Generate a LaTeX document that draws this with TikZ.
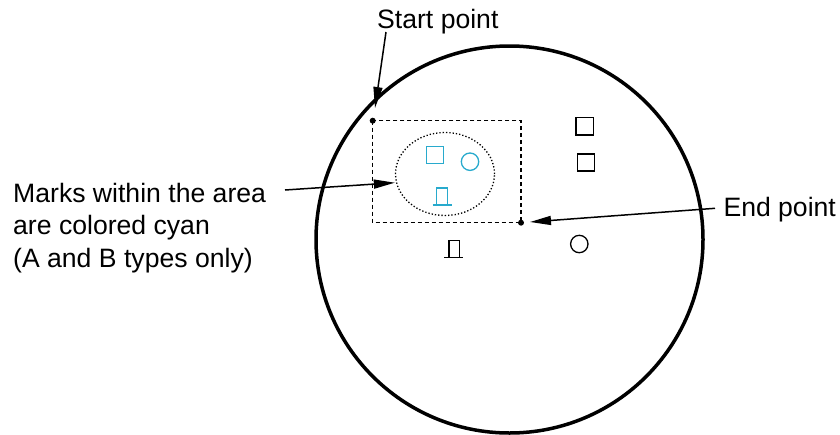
\documentclass[tikz,border=0pt]{standalone}
\usepackage{fontspec}
\setmainfont{Liberation Sans}
\usetikzlibrary{arrows.meta,shapes.geometric,calc}
\definecolor{markcyan}{RGB}{40,170,205}
\begin{document}
\begin{tikzpicture}[
    x=1pt, y=-1pt,
    every node/.style={inner sep=0pt, font=\fontsize{26.6}{32.5}\selectfont},
    caption/.style={anchor=base west, align=left},
    pointer/.style={line width=1.5pt, -{Triangle[length=21pt,width=9pt]}},
    enddot/.style={circle, fill=black, minimum size=6pt},
    symbol/.style={line width=1.3pt},
    door/.style={symbol}
]
\useasboundingbox (0,0) rectangle (840,434);
% screen
\draw[line width=3.5pt] (509.5,239.5) circle (193.5);
% area and marks
\node[enddot] (start) at (372.7,120.7) {};
\node[enddot] (end) at (521,222.7) {};
\draw[line width=1.3pt, dash pattern=on 4pt off 3pt] (start.center) rectangle (end.center);
\node[draw, dotted, line width=1.3pt, ellipse, minimum width=99pt, minimum height=83pt] (area) at (445,174) {};
\draw[symbol, markcyan] (426.2,146.5) rectangle (443.2,163.5);
\draw[symbol, markcyan] (470,161.7) circle (8.7);
\draw[door, markcyan] (436.7,205) -- (436.7,188) -- (447.3,188) -- (447.3,205)
    (432.7,205) -- (451.7,205);
\draw[symbol] (576,117.7) rectangle (593.3,135);
\draw[symbol] (577.3,154) rectangle (594.7,171);
\draw[symbol] (579.3,244) circle (8.7);
\draw[door] (449,257.3) -- (449,240.7) -- (459.3,240.7) -- (459.3,257.3)
    (444.3,257.3) -- (463.3,257.3);
% labels
\node[caption] (startlabel) at (377,28.3) {Start point};
\node[caption] (marklabel) at (13,267) {Marks within the area\\are colored cyan\\(A and B types only)};
\node[caption] (endlabel) at (723.3,216.7) {End point};
\coordinate (starttail) at (386,32);
\coordinate (marktail) at (285,190);
\coordinate (endtail) at (715,208.3);
\draw[pointer] (starttail) -- ($(start)+(2.3,-12.7)$);
\draw[pointer] (marktail) -- (area.west |- 0,182.7);
\draw[pointer] (endtail) -- ($(end)+(9,-0.7)$);
\end{tikzpicture}
\end{document}
